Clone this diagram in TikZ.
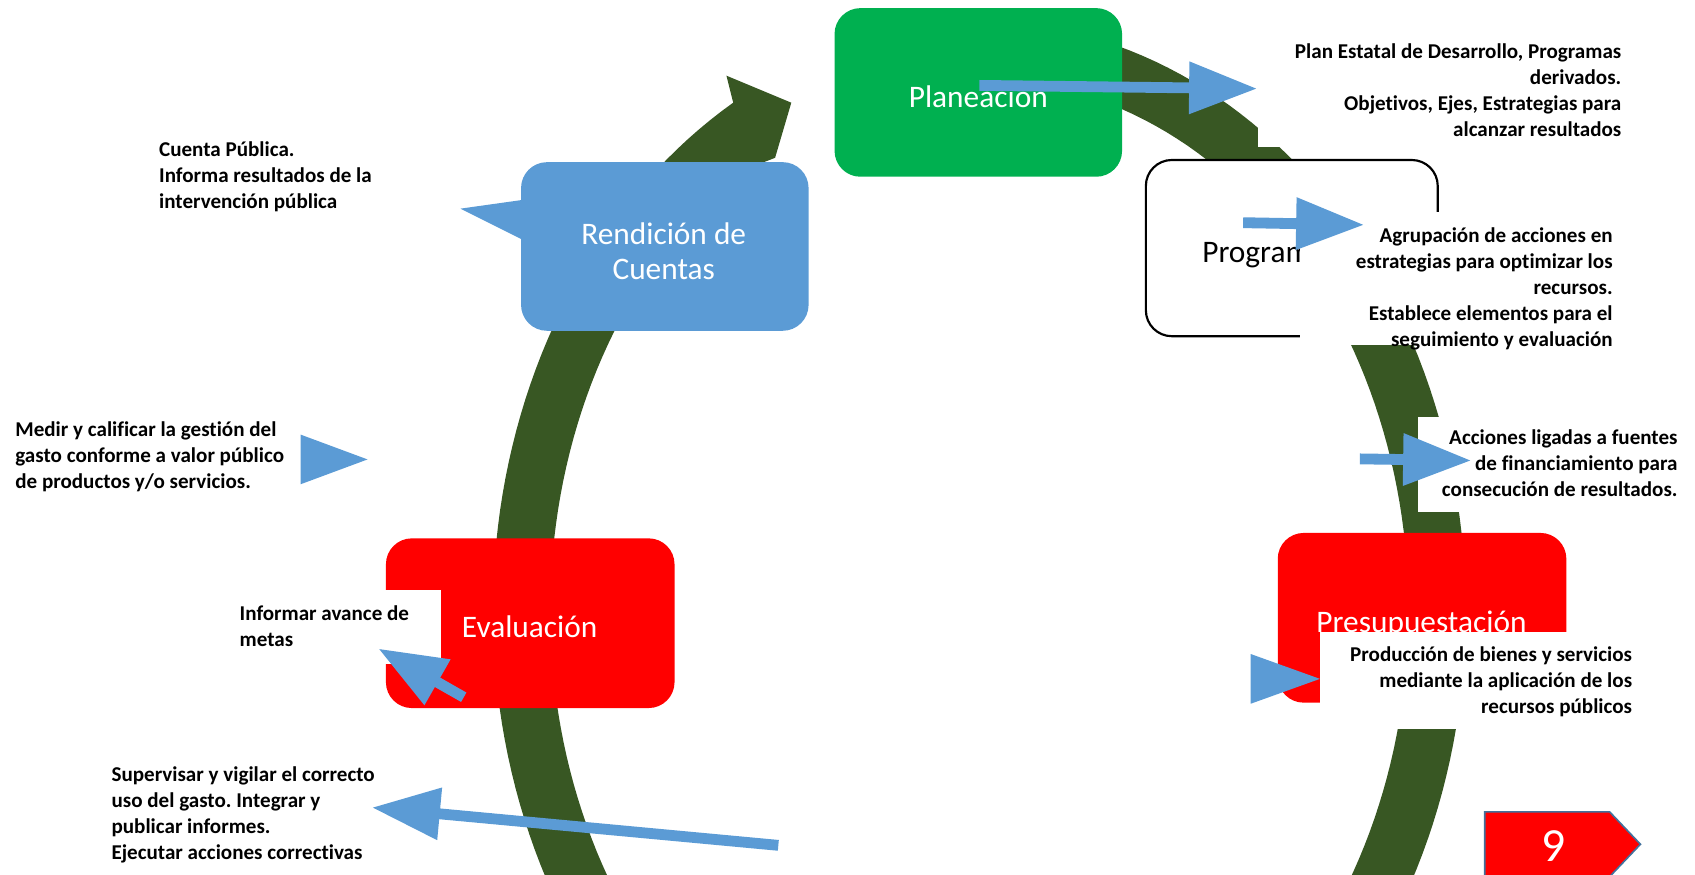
\documentclass[tikz,border=0pt]{standalone}
\usepackage{fontspec}
\setmainfont{Carlito}[Ligatures=NoCommon]
\frenchspacing
\usetikzlibrary{arrows.meta}
\definecolor{bandc}{HTML}{385723}
\definecolor{planc}{HTML}{00B050}
\definecolor{rendc}{HTML}{5B9BD5}
\definecolor{arrc}{HTML}{5B9BD5}
\definecolor{ninec}{HTML}{41719C}
\tikzset{
  cbox/.style={rounded corners=24pt, inner sep=0pt, minimum width=266pt, minimum height=156pt},
  blabel/.style={text=white, inner sep=0pt, font=\fontsize{29}{32}\selectfont},
  note/.style={inner sep=0pt, text=black, font=\fontsize{19.5}{24}\selectfont\bfseries},
  bluearrow/.style={draw=arrc, line width=10pt, -{Triangle[length=63pt,width=46pt]}},
  blank/.style={fill=white},
}
\begin{document}
\begin{tikzpicture}[x=1pt,y=-1pt]
\useasboundingbox (0,0) rectangle (1568,809);
\clip (0,0) rectangle (1568,809);
% circular band with arrow head
\fill[bandc] plot[domain=0:319.6, samples=200, variable=\t] ({906+450*cos(80-\t)},{565-545*sin(80-\t)})
  -- (672,70) -- (732,95) -- (717,146)
  -- plot[domain=0:315.4, samples=200, variable=\t] ({906+397*cos(-235.4+\t)},{565-492*sin(-235.4+\t)})
  -- cycle;
% boxes
\fill[rendc] (490,184) -- (426,193) -- (490,225) -- cycle;
\node[cbox, fill=planc] (plan) at (905,85.5) {};
\node[cbox, fill=rendc] (rend) at (615,228) {};
\node[cbox, fill=red, minimum width=267pt, minimum height=157pt] (eval) at (490.5,576.5) {};
\node[cbox, fill=red, minimum width=267pt, minimum height=157pt] (presu) at (1315.5,571.5) {};
\node[cbox, fill=white, draw=black, line width=2pt, minimum width=270pt, minimum height=163pt] (prog) at (1195,229.5) {};
% box labels
\node[blabel, anchor=base] (planT) at (905,99.3) {Planeacion};
\node[blabel, anchor=north, align=center] (rendT) at (614,203.9) {\strut Rendición de\\Cuentas};
\node[blabel, anchor=base] (evalT) at (490,590) {Evaluación};
\node[blabel, anchor=base] (presuT) at (1315,585) {Presupuestación};
\node[blabel, text=black, anchor=base west] (progT) at (1112,243) {Program};
% white text boxes
\fill[blank] (1164,28) rectangle (1512,136);
\fill[blank] (1203,196) rectangle (1500,319);
\fill[blank] (1312,386) rectangle (1562,474);
\fill[blank] (1221,585) rectangle (1516,674);
\fill[blank] (214,546) rectangle (408,614);
% notes
\node[note, anchor=north east, align=right] (n1) at (1500,37.2) {\strut Plan Estatal de Desarrollo, Programas\\derivados.\\Objetivos, Ejes, Estrategias para\\alcanzar resultados};
\node[note, anchor=north east, align=right] (n2) at (1492,207.2) {\strut Agrupación de acciones en\\estrategias para optimizar los\\recursos.\\Establece elementos para el\\seguimiento y evaluación};
\node[note, anchor=north east, align=right] (n3) at (1552,394.2) {\strut Acciones ligadas a fuentes\\de financiamiento para\\consecución de resultados.};
\node[note, anchor=north east, align=right] (n4) at (1510,594.6) {\strut Producción de bienes y servicios\\mediante la aplicación de los\\recursos públicos};
\node[note, anchor=north west, align=left] (n5) at (147,128.2) {\strut Cuenta Pública.\\Informa resultados de la\\intervención pública};
\node[note, anchor=north west, align=left] (n6) at (14,387.2) {\strut Medir y calificar la gestión del\\gasto conforme a valor público\\de productos y/o servicios.};
\node[note, anchor=north west, align=left] (n7) at (221.5,557.2) {\strut Informar avance de\\metas};
\node[note, anchor=north west, align=left] (n8) at (103,705.7) {\strut Supervisar y vigilar el correcto\\uso del gasto. Integrar y\\publicar informes.\\Ejecutar acciones correctivas};
% blue arrows
\coordinate (a1s) at (906,79);   \coordinate (a1e) at (1163,82);
\coordinate (a2s) at (1150,206); \coordinate (a2e) at (1262,208);
\coordinate (a3s) at (1258,424.5); \coordinate (a3e) at (1361,426);
\coordinate (a5s) at (429,645);  \coordinate (a5e) at (350,600);
\coordinate (a6s) at (720,782);  \coordinate (a6e) at (344,747);
\draw[bluearrow] (a1s) -- (a1e);
\draw[bluearrow] (a2s) -- (a2e);
\draw[bluearrow] (a3s) -- (a3e);
\draw[bluearrow] (a5s) -- (a5e);
\draw[bluearrow] (a6s) -- (a6e);
\fill[arrc] (1157,605) -- (1221,628) -- (1157,651) -- cycle;
\fill[arrc] (278,402) -- (340,425) -- (278,448) -- cycle;
% page number tag
\draw[fill=red, draw=ninec, line width=1.5pt] (1373.5,751) -- (1489,751) -- (1517.5,781) -- (1489,811) -- (1373.5,811) -- cycle;
\node[blabel, font=\fontsize{44}{48}\selectfont, anchor=base] (nineT) at (1437,797) {9};
\end{tikzpicture}
\end{document}
